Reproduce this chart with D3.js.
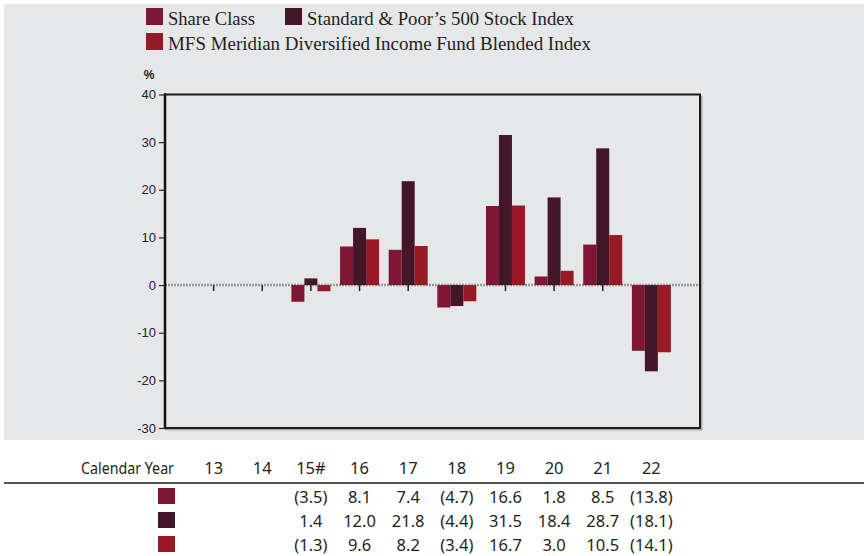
<!DOCTYPE html>
<html>
<head>
<meta charset="utf-8">
<script src="https://cdn.jsdelivr.net/npm/d3@7"></script>
<style>
  body { margin: 0; background: #fff; }
  svg { display: block; }
</style>
</head>
<body>
<script>
var years = ["13", "14", "15#", "16", "17", "18", "19", "20", "21", "22"];
var shareClass = [null, null, -3.5, 8.1, 7.4, -4.7, 16.6, 1.8, 8.5, -13.8];
var sp500 = [null, null, 1.4, 12.0, 21.8, -4.4, 31.5, 18.4, 28.7, -18.1];
var blended = [null, null, -1.3, 9.6, 8.2, -3.4, 16.7, 3.0, 10.5, -14.1];
var seriesNames = ["Share Class", "Standard & Poor\u2019s 500 Stock Index", "MFS Meridian Diversified Income Fund Blended Index"];
var colors = ["#7f1734", "#431628", "#961b26"];
var yTicks = [40, 30, 20, 10, 0, -10, -20, -30];

var width = 864, height = 556;
var plot = {left: 165, right: 700, top: 94.5, bottom: 428};

var series = [shareClass, sp500, blended];

var svg = d3.select("body").append("svg")
    .attr("width", width)
    .attr("height", height);

// grey panel
svg.append("rect")
    .attr("x", 4).attr("y", 4)
    .attr("width", width - 4).attr("height", 436)
    .attr("fill", "#e6e7e9");

var x = d3.scalePoint()
    .domain(years)
    .range([plot.left, plot.right])
    .padding(1);

var y = d3.scaleLinear()
    .domain([-30, 40])
    .range([plot.bottom, plot.top]);

var inner = d3.scaleBand()
    .domain(d3.range(series.length))
    .range([-19.5, 19.5]);

// frame shadow
svg.append("path")
    .attr("d", `M${plot.right + 1.5},${plot.top + 1} V${plot.bottom + 1.5} H${plot.left}`)
    .attr("fill", "none")
    .attr("stroke", "#aaa")
    .attr("stroke-width", 2);

// zero line
svg.append("line")
    .attr("x1", plot.left).attr("x2", plot.right)
    .attr("y1", y(0)).attr("y2", y(0))
    .attr("stroke", "#999")
    .attr("stroke-width", 2.5)
    .attr("stroke-dasharray", "2,1");

// bars
series.forEach((vals, si) => {
    svg.append("g").selectAll("rect")
        .data(years.map((yr, i) => ({yr: yr, v: vals[i]})).filter(d => d.v !== null))
        .enter().append("rect")
        .attr("x", d => x(d.yr) + inner(si))
        .attr("width", inner.bandwidth())
        .attr("y", d => y(Math.max(0, d.v)))
        .attr("height", d => Math.abs(y(d.v) - y(0)))
        .attr("fill", colors[si]);
});

// x ticks on zero line
svg.append("g").selectAll("line")
    .data(years)
    .enter().append("line")
    .attr("x1", d => x(d)).attr("x2", d => x(d))
    .attr("y1", y(0)).attr("y2", y(0) + 6)
    .attr("stroke", "#222")
    .attr("stroke-width", 1.5);

// frame
svg.append("rect")
    .attr("x", plot.left).attr("y", plot.top)
    .attr("width", plot.right - plot.left)
    .attr("height", plot.bottom - plot.top)
    .attr("fill", "none")
    .attr("stroke", "#1a1a1a")
    .attr("stroke-width", 2);
svg.append("line")
    .attr("x1", plot.left).attr("x2", plot.left)
    .attr("y1", plot.top - 1).attr("y2", plot.bottom + 1)
    .attr("stroke", "#111")
    .attr("stroke-width", 2.5);

// y axis
var yAxis = svg.append("g")
    .attr("transform", `translate(${plot.left},0)`)
    .call(d3.axisLeft(y).tickValues(yTicks).tickSize(6).tickPadding(3)
        .tickFormat(d => String(d)));
yAxis.select(".domain").remove();
yAxis.selectAll("line").attr("stroke", "#222").attr("stroke-width", 1.2);
yAxis.selectAll("text")
    .attr("font-family", "Liberation Sans, Arial, sans-serif")
    .attr("font-size", 13)
    .attr("fill", "#222");

svg.append("text")
    .attr("x", 149).attr("y", 79)
    .attr("text-anchor", "middle")
    .attr("font-family", "Liberation Sans, Arial, sans-serif")
    .attr("font-weight", "bold")
    .attr("font-size", 12)
    .attr("fill", "#222")
    .text("%");

// legend
var legendPos = [{x: 146, y: 8}, {x: 285, y: 8}, {x: 146, y: 33}];
var legendWidths = [87, 267, 423];
var legend = svg.append("g").selectAll("g")
    .data(seriesNames)
    .enter().append("g")
    .attr("transform", (d, i) => `translate(${legendPos[i].x},${legendPos[i].y})`);
legend.append("rect")
    .attr("width", 17).attr("height", 17)
    .attr("fill", (d, i) => colors[i]);
legend.append("text")
    .attr("x", 22).attr("y", 17)
    .attr("font-family", "Liberation Serif, serif")
    .attr("font-size", 18.5)
    .attr("fill", "#231f20")
    .attr("textLength", (d, i) => legendWidths[i])
    .attr("lengthAdjust", "spacingAndGlyphs")
    .text(d => d);

// table
var tableFont = "Noto Sans, Open Sans, sans-serif";
svg.append("text")
    .attr("x", 174).attr("y", 474)
    .attr("text-anchor", "end")
    .attr("font-family", tableFont)
    .attr("font-size", 16.5)
    .attr("fill", "#231f20")
    .attr("textLength", 93)
    .attr("lengthAdjust", "spacingAndGlyphs")
    .text("Calendar Year");

svg.append("g").selectAll("text")
    .data(years)
    .enter().append("text")
    .attr("x", d => x(d))
    .attr("y", 474)
    .attr("text-anchor", "middle")
    .attr("font-family", tableFont)
    .attr("font-size", 16.5)
    .attr("fill", "#231f20")
    .text(d => d);

svg.append("line")
    .attr("x1", 4).attr("x2", width)
    .attr("y1", 483).attr("y2", 483)
    .attr("stroke", "#555")
    .attr("stroke-width", 2);

var fmt = v => v === null ? "" : (v < 0 ? "(" + Math.abs(v).toFixed(1) + ")" : v.toFixed(1));

series.forEach((vals, si) => {
    var rowY = 503 + si * 24;
    svg.append("rect")
        .attr("x", 158).attr("y", rowY - 15)
        .attr("width", 17).attr("height", 16)
        .attr("fill", colors[si]);
    svg.append("g").selectAll("text")
        .data(years.map((yr, i) => ({yr: yr, v: vals[i]})))
        .enter().append("text")
        .attr("x", d => x(d.yr))
        .attr("y", rowY)
        .attr("text-anchor", "middle")
        .attr("font-family", tableFont)
        .attr("font-size", 16.5)
        .attr("fill", "#231f20")
        .text(d => fmt(d.v));
});
</script>
</body>
</html>
